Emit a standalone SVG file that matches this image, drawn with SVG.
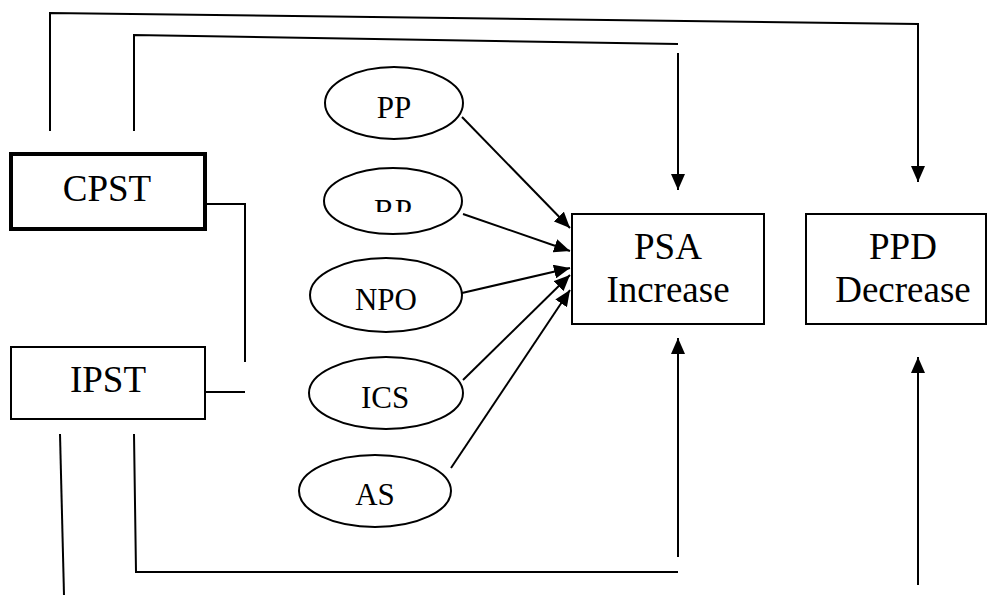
<svg xmlns="http://www.w3.org/2000/svg" width="988" height="596" viewBox="0 0 988 596">
<style>
.box{fill:#fff;stroke:#000;stroke-width:2}
.thick{stroke-width:4}
.ell{fill:#fff;stroke:#000;stroke-width:2}
.big{font-family:"Liberation Serif","Times New Roman",serif;font-size:37px;fill:#000;text-anchor:middle}
.small{font-family:"Liberation Serif","Times New Roman",serif;font-size:31px;fill:#000;text-anchor:middle}
.ln{fill:none;stroke:#000;stroke-width:2}
</style>
<defs>
<marker id="ah" markerUnits="userSpaceOnUse" markerWidth="16" markerHeight="14" viewBox="0 0 16 14" refX="16" refY="7" orient="auto">
<path d="M0,0 L16,7 L0,14 z" fill="#000"/>
</marker>
<clipPath id="rpclip"><rect x="300" y="160" width="180" height="52"/></clipPath>
</defs>
<rect width="988" height="596" fill="#fff"/>
<g id="connectors">
<polyline class="ln" points="50,131 50,13 918,24 918,182" marker-end="url(#ah)"/>
<polyline class="ln" points="134,131 134,35 678,44"/>
<line class="ln" x1="678" y1="53" x2="678" y2="190" marker-end="url(#ah)"/>
<polyline class="ln" points="205,204 245,204 245,362"/>
<line class="ln" x1="205" y1="392" x2="245" y2="392"/>
<line class="ln" x1="60" y1="434" x2="64" y2="595"/>
<polyline class="ln" points="134,434 136,572 678,572"/>
<line class="ln" x1="678" y1="557" x2="678" y2="338" marker-end="url(#ah)"/>
<line class="ln" x1="918" y1="585" x2="918" y2="357" marker-end="url(#ah)"/>
<line class="ln" x1="462" y1="117" x2="570" y2="228" marker-end="url(#ah)"/>
<line class="ln" x1="463" y1="214" x2="570" y2="251" marker-end="url(#ah)"/>
<line class="ln" x1="462" y1="293" x2="570" y2="268" marker-end="url(#ah)"/>
<line class="ln" x1="463" y1="380" x2="570" y2="275" marker-end="url(#ah)"/>
<line class="ln" x1="451" y1="468" x2="570" y2="290" marker-end="url(#ah)"/>
</g>
<g id="CPST">
<rect class="box thick" x="11" y="154" width="194" height="75"/>
<text class="big" x="107" y="201">CPST</text>
</g>
<g id="IPST">
<rect class="box" x="11" y="347" width="194" height="72"/>
<text class="big" x="108" y="392">IPST</text>
</g>
<g id="PP">
<ellipse class="ell" cx="394" cy="103" rx="69" ry="36"/>
<text class="small" x="394" y="118">PP</text>
</g>
<g id="RP">
<ellipse class="ell" cx="393" cy="201" rx="69" ry="33" stroke-width="4"/>
<text class="small" x="393" y="221" clip-path="url(#rpclip)">RP</text>
</g>
<g id="NPO">
<ellipse class="ell" cx="386" cy="295" rx="76" ry="37"/>
<text class="small" x="386" y="310">NPO</text>
</g>
<g id="ICS">
<ellipse class="ell" cx="386" cy="393" rx="77" ry="36"/>
<text class="small" x="385" y="408">ICS</text>
</g>
<g id="AS">
<ellipse class="ell" cx="375" cy="491" rx="76" ry="36"/>
<text class="small" x="375" y="505">AS</text>
</g>
<g id="PSA">
<rect class="box" x="572" y="214" width="192" height="110"/>
<text class="big" x="668" y="259">PSA</text>
<text class="big" x="668" y="302">Increase</text>
</g>
<g id="PPD">
<rect class="box" x="806" y="214" width="180" height="110"/>
<text class="big" x="903" y="259">PPD</text>
<text class="big" x="903" y="302">Decrease</text>
</g>
</svg>
